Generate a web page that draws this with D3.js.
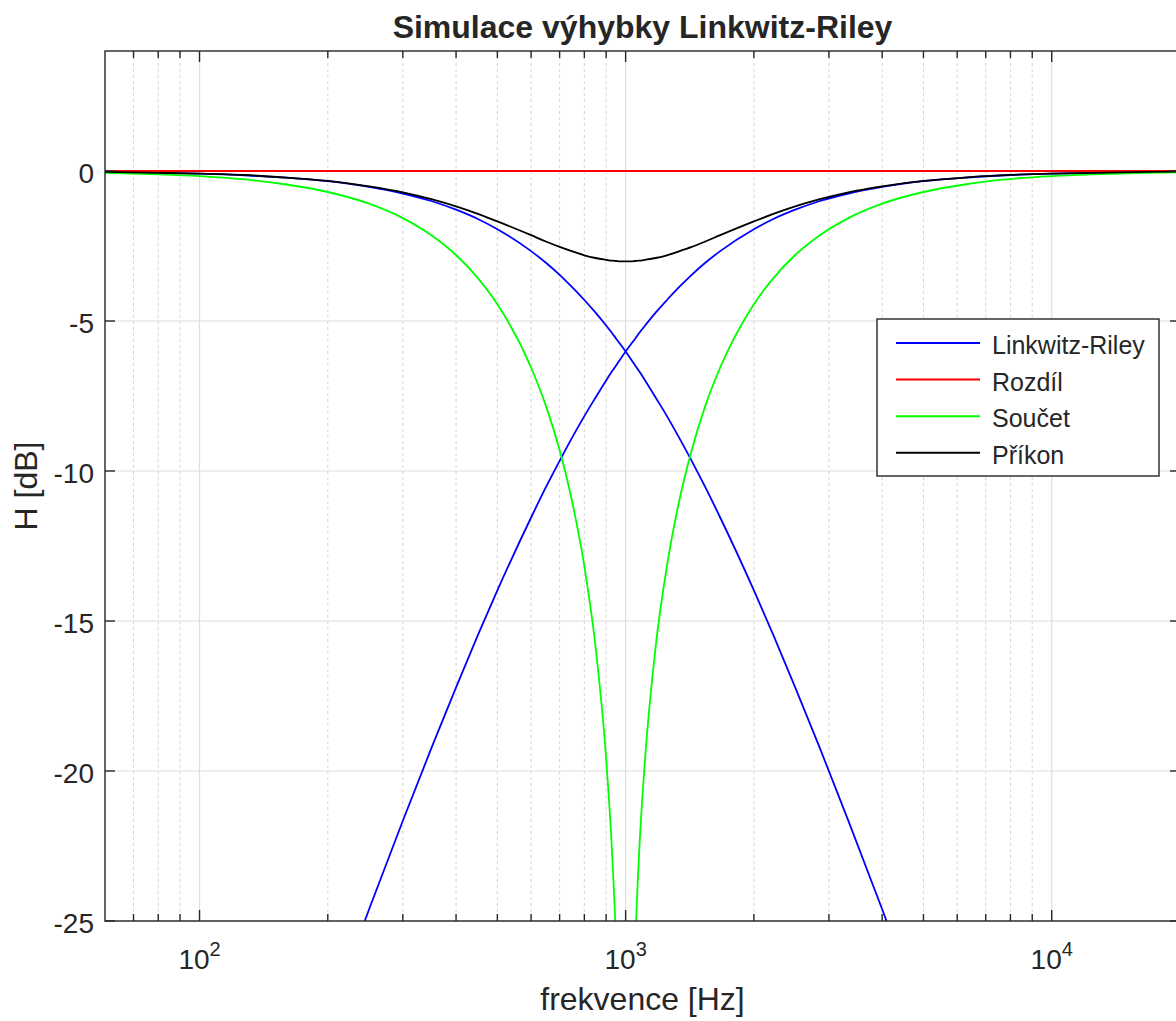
<!DOCTYPE html>
<html>
<head>
<meta charset="utf-8">
<script src="https://cdn.jsdelivr.net/npm/d3@7"></script>
<style>
    body { margin: 0; background: #fff; }
    text { font-family: "Liberation Sans", Arial, Helvetica, sans-serif; fill: #262626; }
</style>
</head>
<body>
<div id="chart"></div>
<script>
const freqs = [60, 80, 100, 130, 160, 200, 250, 300, 350, 400, 450, 500, 600, 650, 700, 750, 800, 850, 900, 930, 950, 970,
    1000, 1031, 1053, 1075, 1111, 1176, 1250, 1333, 1429, 1538, 1667, 2000, 2222, 2500, 2857, 3333, 4000, 5000, 6250,
    7692, 10000, 12500, 16667, 20000];

// Linkwitz-Riley low pass [dB]
const lowPass = [-0.03, -0.06, -0.09, -0.15, -0.22, -0.34, -0.53, -0.75, -1.00, -1.29, -1.60, -1.94, -2.67, -3.06, -3.46,
    -3.88, -4.30, -4.72, -5.15, -5.41, -5.59, -5.76, -6.02, -6.29, -6.48, -6.67, -6.98, -7.55, -8.17, -8.87, -9.66, -10.54,
    -11.55, -13.98, -15.47, -17.21, -19.24, -21.66, -24.61, -28.30, -32.06, -35.59, -40.09, -43.93, -48.90, -52.06];

// Linkwitz-Riley high pass [dB]
const highPass = [-48.90, -43.93, -40.09, -35.59, -32.06, -28.30, -24.61, -21.66, -19.24, -17.21, -15.47, -13.98, -11.55,
    -10.54, -9.66, -8.87, -8.17, -7.55, -6.98, -6.67, -6.48, -6.29, -6.02, -5.76, -5.59, -5.41, -5.15, -4.72, -4.30, -3.88,
    -3.46, -3.06, -2.67, -1.94, -1.60, -1.29, -1.00, -0.75, -0.53, -0.34, -0.22, -0.15, -0.09, -0.06, -0.03, -0.02];

// Rozdil (difference) [dB]
const difference = [0, 0, 0, 0, 0, 0, 0, 0, 0, 0, 0, 0, 0, 0, 0, 0, 0, 0, 0, 0, 0, 0,
    0, 0, 0, 0, 0, 0, 0, 0, 0, 0, 0, 0, 0, 0, 0, 0, 0, 0, 0, 0, 0, 0, 0, 0];

// Soucet (sum) [dB], notch at the crossover
const sum = [-0.06, -0.11, -0.17, -0.29, -0.45, -0.70, -1.09, -1.57, -2.14, -2.80, -3.57, -4.44, -6.55, -7.83, -9.31,
    -11.06, -13.17, -15.86, -19.58, -22.80, -25.81, -30.33, -80, -30.33, -25.81, -22.80, -19.58, -15.86, -13.17, -11.06,
    -9.31, -7.83, -6.55, -4.44, -3.57, -2.80, -2.14, -1.57, -1.09, -0.70, -0.45, -0.29, -0.17, -0.11, -0.06, -0.04];

// Prikon (power) [dB]
const power = [-0.03, -0.06, -0.09, -0.14, -0.22, -0.33, -0.51, -0.71, -0.94, -1.18, -1.43, -1.68, -2.14, -2.35, -2.53,
    -2.68, -2.81, -2.90, -2.96, -2.99, -3.00, -3.01, -3.01, -3.01, -3.00, -2.99, -2.96, -2.90, -2.81, -2.68, -2.53, -2.35,
    -2.14, -1.68, -1.43, -1.18, -0.94, -0.71, -0.51, -0.33, -0.22, -0.14, -0.09, -0.06, -0.03, -0.02];

const yTicks = [0, -5, -10, -15, -20, -25];
const xMajorTicks = [100, 1000, 10000];
const legendLabels = ["Linkwitz-Riley", "Rozdíl", "Součet", "Příkon"];
const legendColors = ["#0000ff", "#ff0000", "#00ff00", "#000000"];

class crossoverPlot {
    constructor(_config) {
        this.config = {
            parentElement: _config.parentElement,
            containerWidth: 1176,
            containerHeight: 1021,
            margin: { top: 51, right: -4, bottom: 100, left: 105 },
            axisColor: "#262626",
        };
        this.initVis();
    }

    initVis() {
        const vis = this;
        const c = vis.config;

        vis.width = c.containerWidth - c.margin.left - c.margin.right;
        vis.height = c.containerHeight - c.margin.top - c.margin.bottom;

        vis.svg = d3.select(c.parentElement).append("svg")
            .attr("width", c.containerWidth)
            .attr("height", c.containerHeight);

        vis.chart = vis.svg.append("g")
            .attr("transform", `translate(${c.margin.left},${c.margin.top})`);

        vis.x = d3.scaleLog().domain([60, 20000]).range([0, vis.width]);
        vis.y = d3.scaleLinear().domain([-25, 4]).range([vis.height, 0]);

        vis.svg.append("defs").append("clipPath").attr("id", "plot-clip")
            .append("rect").attr("width", vis.width).attr("height", vis.height);

        // minor ticks 2..9 per decade
        vis.minorTicks = [];
        [10, 100, 1000, 10000].forEach((d) => {
            for (let k = 2; k <= 9; k++) {
                const v = k * d;
                if (v > 60 && v < 20000) vis.minorTicks.push(v);
            }
        });

        this.updateVis();
    }

    updateVis() {
        const vis = this;
        const c = vis.config;

        // grid
        vis.chart.append("g").selectAll("line.minor-grid")
            .data(vis.minorTicks)
            .join("line")
            .attr("class", "minor-grid")
            .attr("x1", (d) => vis.x(d)).attr("x2", (d) => vis.x(d))
            .attr("y1", 0).attr("y2", vis.height)
            .attr("stroke", "#d4d4d4")
            .attr("stroke-width", 1)
            .attr("stroke-dasharray", "3,3");

        vis.chart.append("g").selectAll("line.major-grid")
            .data(xMajorTicks)
            .join("line")
            .attr("x1", (d) => vis.x(d)).attr("x2", (d) => vis.x(d))
            .attr("y1", 0).attr("y2", vis.height)
            .attr("stroke", "#dedede")
            .attr("stroke-width", 1.2);

        vis.chart.append("g").selectAll("line.y-grid")
            .data(yTicks)
            .join("line")
            .attr("x1", 0).attr("x2", vis.width)
            .attr("y1", (d) => vis.y(d)).attr("y2", (d) => vis.y(d))
            .attr("stroke", "#dedede")
            .attr("stroke-width", 1.2);

        // curves
        const line = d3.line()
            .x((d) => vis.x(d[0]))
            .y((d) => vis.y(d[1]))
            .curve(d3.curveMonotoneX);

        const series = [
            { values: lowPass, color: legendColors[0] },
            { values: highPass, color: legendColors[0] },
            { values: difference, color: legendColors[1] },
            { values: sum, color: legendColors[2] },
            { values: power, color: legendColors[3] },
        ];

        vis.chart.append("g")
            .attr("clip-path", "url(#plot-clip)")
            .selectAll("path")
            .data(series)
            .join("path")
            .attr("d", (s) => line(freqs.map((f, i) => [f, s.values[i]])))
            .attr("fill", "none")
            .attr("stroke", (s) => s.color)
            .attr("stroke-width", 1.8);

        // box and ticks
        const axes = vis.chart.append("g")
            .attr("stroke", c.axisColor)
            .attr("stroke-width", 1.4);

        axes.append("rect")
            .attr("width", vis.width)
            .attr("height", vis.height)
            .attr("fill", "none");

        const xTickData = xMajorTicks.map((d) => ({ v: d, len: 11 }))
            .concat(vis.minorTicks.map((d) => ({ v: d, len: 7 })));

        axes.selectAll("line.xtick-bottom")
            .data(xTickData)
            .join("line")
            .attr("x1", (d) => vis.x(d.v)).attr("x2", (d) => vis.x(d.v))
            .attr("y1", vis.height).attr("y2", (d) => vis.height - d.len);

        axes.selectAll("line.xtick-top")
            .data(xTickData)
            .join("line")
            .attr("class", "xtick-top")
            .attr("x1", (d) => vis.x(d.v)).attr("x2", (d) => vis.x(d.v))
            .attr("y1", 0).attr("y2", (d) => d.len);

        axes.selectAll("line.ytick-left")
            .data(yTicks)
            .join("line")
            .attr("class", "ytick-left")
            .attr("x1", 0).attr("x2", 10)
            .attr("y1", (d) => vis.y(d)).attr("y2", (d) => vis.y(d));

        axes.selectAll("line.ytick-right")
            .data(yTicks)
            .join("line")
            .attr("class", "ytick-right")
            .attr("x1", vis.width).attr("x2", vis.width - 10)
            .attr("y1", (d) => vis.y(d)).attr("y2", (d) => vis.y(d));

        // tick labels
        vis.chart.append("g").selectAll("text.ylabel")
            .data(yTicks)
            .join("text")
            .attr("x", -11)
            .attr("y", (d) => vis.y(d) + 12)
            .attr("text-anchor", "end")
            .attr("font-size", 28)
            .text((d) => d);

        const xl = vis.chart.append("g").selectAll("text.xlabel")
            .data(xMajorTicks)
            .join("text")
            .attr("x", (d) => vis.x(d))
            .attr("y", vis.height + 48)
            .attr("text-anchor", "middle")
            .attr("font-size", 28);
        xl.append("tspan").text("10");
        xl.append("tspan")
            .attr("dy", -13)
            .attr("font-size", 20)
            .text((d) => Math.round(Math.log10(d)));

        // title and axis labels
        vis.svg.append("text")
            .attr("x", c.margin.left + vis.width / 2)
            .attr("y", 38)
            .attr("text-anchor", "middle")
            .attr("font-size", 32)
            .attr("font-weight", "bold")
            .attr("fill", "#000")
            .text("Simulace výhybky Linkwitz-Riley");

        vis.svg.append("text")
            .attr("x", c.margin.left + vis.width / 2)
            .attr("y", 1010)
            .attr("text-anchor", "middle")
            .attr("font-size", 32)
            .text("frekvence [Hz]");

        vis.svg.append("text")
            .attr("transform", `translate(37,${c.margin.top + vis.height / 2}) rotate(-90)`)
            .attr("text-anchor", "middle")
            .attr("font-size", 32)
            .text("H [dB]");

        // legend
        const legend = vis.svg.append("g").attr("transform", "translate(877,319)");
        legend.append("rect")
            .attr("width", 282)
            .attr("height", 157)
            .attr("fill", "#fff")
            .attr("stroke", c.axisColor)
            .attr("stroke-width", 1.4);

        const rows = legend.selectAll("g.row")
            .data(legendLabels)
            .join("g")
            .attr("transform", (d, i) => `translate(0,${24 + i * 36.6})`);
        rows.append("line")
            .attr("x1", 19).attr("x2", 103)
            .attr("stroke", (d, i) => legendColors[i])
            .attr("stroke-width", 2);
        rows.append("text")
            .attr("x", 115)
            .attr("y", 11)
            .attr("font-size", 25)
            .attr("fill", "#000")
            .text((d) => d);
    }
}

new crossoverPlot({ parentElement: "#chart" });
</script>
</body>
</html>
